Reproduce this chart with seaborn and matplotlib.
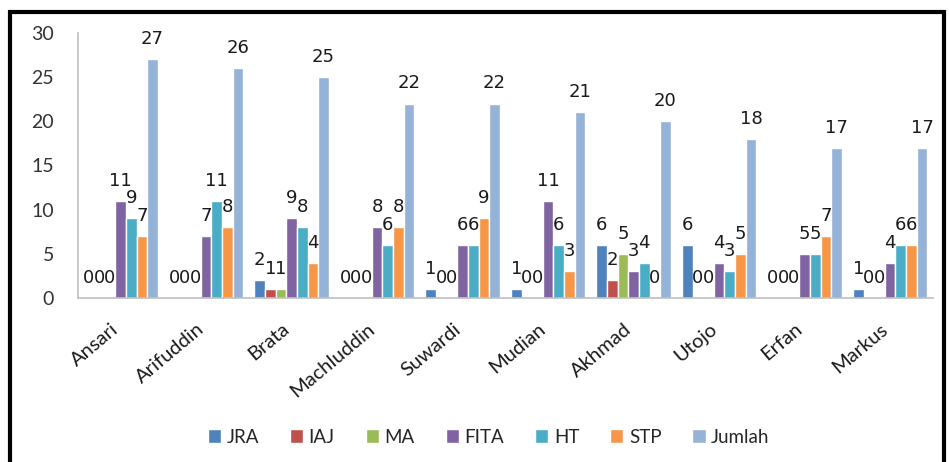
import pandas as pd
import matplotlib.pyplot as plt
import matplotlib.transforms as mtransforms
import seaborn as sns

# data
names = ['Ansari', 'Arifuddin', 'Brata', 'Machluddin', 'Suwardi',
         'Mudian', 'Akhmad', 'Utojo', 'Erfan', 'Markus']
series = ['JRA', 'IAJ', 'MA', 'FITA', 'HT', 'STP', 'Jumlah']
jra = [0, 0, 2, 0, 1, 1, 6, 6, 0, 1]
iaj = [0, 0, 1, 0, 0, 0, 2, 0, 0, 0]
ma = [0, 0, 1, 0, 0, 0, 5, 0, 0, 0]
fita = [11, 7, 9, 8, 6, 11, 3, 4, 5, 4]
ht = [9, 11, 8, 6, 6, 6, 4, 3, 5, 6]
stp = [7, 8, 4, 8, 9, 3, 0, 5, 7, 6]
jumlah = [27, 26, 25, 22, 22, 21, 20, 18, 17, 17]

colors = ['#4F81BD', '#C0504D', '#9BBB59', '#8064A2', '#4BACC6', '#F79646', '#95B3D7']

wide = pd.DataFrame(dict(zip(series, [jra, iaj, ma, fita, ht, stp, jumlah])), index=names)
df = wide.reset_index(names='Nama').melt(id_vars='Nama', var_name='Seri', value_name='Nilai')

sns.set_style('white')
plt.rcParams['font.family'] = ['Lato', 'DejaVu Sans']

fig = plt.figure(figsize=(9.49, 4.62), dpi=100)
ax = fig.add_axes([0.082, 0.355, 0.901, 0.574])

sns.barplot(data=df, x='Nama', y='Nilai', hue='Seri', order=names, hue_order=series,
            palette=colors, width=0.87, gap=0, saturation=1, ax=ax, legend=True)

for cont in ax.containers:
    ax.bar_label(cont, fmt='%d', padding=8, fontsize=13, family='DejaVu Sans', color='#1a1a1a')

ax.set_ylim(0, 30)
ax.set_yticks(range(0, 31, 5))
ax.set_xlim(-0.5, len(names) - 0.5)
ax.set_xlabel('')
ax.set_ylabel('')
ax.tick_params(axis='y', labelsize=14, length=0, pad=17, labelcolor='#333333')
ax.tick_params(axis='x', labelsize=14.5, length=0, pad=16, labelcolor='#1a1a1a')
shift = mtransforms.ScaledTranslation(-10 / 100, 0, fig.dpi_scale_trans)
for lab in ax.get_xticklabels():
    lab.set_rotation(40)
    lab.set_ha('right')
    lab.set_rotation_mode('anchor')
    lab.set_transform(lab.get_transform() + shift)
sns.despine(ax=ax)
for side in ['left', 'bottom']:
    ax.spines[side].set_color('#BFBFBF')
    ax.spines[side].set_linewidth(1.2)

handles, labels = ax.get_legend_handles_labels()
ax.legend_.remove()
fig.legend(handles, labels, loc='center', bbox_to_anchor=(0.515, 0.054), ncol=7,
           frameon=False, fontsize=13.5, handlelength=0.7, handleheight=0.7,
           handletextpad=0.3, columnspacing=1.65)

# black frame round the chart
fig.patches.append(plt.Rectangle((0.011, -0.02), 0.984, 0.995, transform=fig.transFigure,
                                 fill=False, edgecolor='black', linewidth=3))

fig.savefig('out.png', dpi=100)
